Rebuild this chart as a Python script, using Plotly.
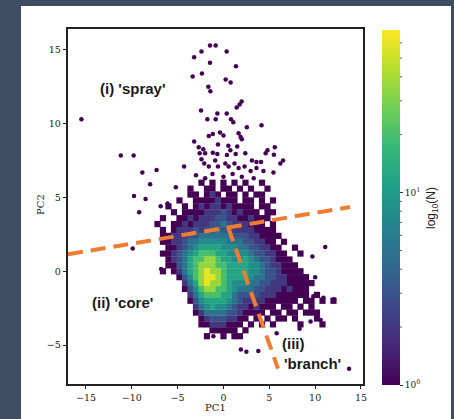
import numpy as np
import plotly.graph_objects as go

# ---------------- data ----------------
# hexbin-like density of the dense region: cell centres and coded counts
GRID_X = [-7.2, -6.6, -6.0, -5.4, -4.8, -4.2, -3.6, -3.0, -2.4, -1.8, -1.2, -0.6,
          0.0, 0.6, 1.2, 1.8, 2.4, 3.0, 3.6, 4.2, 4.8, 5.4, 6.0, 6.6, 7.2, 7.8,
          8.4, 9.0, 9.6, 10.2, 10.8, 11.4, 12.0]
GRID_Y = [6.0, 5.6, 5.2, 4.8, 4.4, 4.0, 3.6, 3.2, 2.8, 2.4, 2.0, 1.6, 1.2, 0.8,
          0.4, 0.0, -0.4, -0.8, -1.2, -1.6, -2.0, -2.4, -2.8, -3.2, -3.6, -4.0, -4.4]
LEVEL_COUNTS = {"1": 1, "2": 2, "3": 3, "4": 5, "5": 8, "6": 12, "7": 20, "8": 35, "9": 60}
DENSITY_ROWS = [
    "........1.1.1.1.1..1.............",
    "......1..11.11.1.1..1............",
    "......11.121.11.1.11.............",
    "....1..11112111.11.1.1...........",
    "..1..1.12122121111.11............",
    "...1.11112223212111.11...........",
    ".1..11212223322112111............",
    "1..11212223343222111.1...........",
    ".1.1222323343322221111...........",
    ".1122233444444333221111..........",
    ".112234455555444332211.1.........",
    "..112345666655544332211..1.......",
    ".11234567776655554332211..1......",
    "..12346778876655654332111........",
    "..113467888776666554322111.......",
    ".1.124678988766665543321111......",
    "....135789987666654433221111.....",
    ".....246898876555443322211111....",
    ".....13578877654443322212111.....",
    "......2467776643333222111111.1...",
    "......13566665432222111111.11.1.1",
    ".......245655432212111.11.1.1....",
    ".......1244443321111.11.11.111...",
    "........123332211.1.1.11.1...1...",
    "........11222111.1.1.1....1...1..",
    "..........11111.1................",
    ".........1..1.11.................",
]
# isolated single-count cells (spray, outliers)
SPARSE_X = [-15.5, -1.47, -0.85, -2.4, 0.35, -3.2, -1.47, 1.36, -3.36, -2.35, 0.24, 0.78,
            -1.65, -1.43, 1.98, 1.76, 1.44, -2.45, -0.67, -1.76, -0.85, 0.35, 0.82, 1.07,
            2.55, 4.15, -1.6, -1.16, -0.38, 0.0, 1.65, 1.87, 2.0, -3.2, -2.7, -2.2, -0.6,
            0.53, 0.75, 1.5, -2.6, -2.0, -1.16, -0.67, 0.38, 1.33, 2.38, 4.6, 4.8, 5.6, 5.5,
            -11.2, -9.8, 3.1, 3.6, 4.1, 6.5, 6.2, -2.4, -2.1, -1.6, -4.3, -0.9, -0.6, 0.2,
            0.56, 1.2, 1.65, 2.3, 2.96, 3.6, 4.36, 5.45, -8.85, -7.3, -8.0, -5.2, -9.76,
            -8.5, -9.2, -6.85, -6.1, -9.9, -6.8, 11.1, 9.7, 10.0, 12.05, 10.9, 9.8, 9.7,
            10.2, 10.6, 9.5, 8.3, 5.8, -1.1, 1.9, 2.5, 3.8, 13.7,
            -3.0, -1.2, 0.0, 1.0, 2.0, 3.3, -2.0]
SPARSE_Y = [10.3, 15.3, 15.3, 14.9, 14.9, 14.5, 14.14, 13.9, 13.2, 13.4, 13.0, 12.8,
            12.5, 12.2, 11.5, 11.3, 11.1, 10.9, 10.7, 10.3, 10.3, 10.7, 10.3, 10.1,
            9.76, 9.9, 9.17, 9.3, 9.4, 9.2, 9.35, 9.1, 8.95, 8.8, 8.4, 8.27, 8.6,
            8.5, 8.2, 8.45, 8.0, 8.0, 8.04, 7.95, 7.88, 7.95, 8.0, 8.0, 8.2, 8.4, 7.9,
            7.84, 7.84, 7.5, 7.4, 7.4, 7.5, 7.3, 7.6, 7.3, 7.1, 7.1, 7.5, 7.1, 7.3,
            7.1, 7.3, 7.0, 7.1, 6.8, 7.0, 6.8, 6.7, 6.7, 6.86, 5.9, 5.7, 5.1,
            4.9, 4.0, 4.4, 4.6, 1.55, 0.15, 1.65, 1.0, -0.4, -1.9, -1.8, -1.7, -2.8,
            -2.9, -3.3, -3.4, -3.9, -4.2, -4.4, -5.3, -5.45, -5.4, -6.6,
            6.5, 6.6, 6.4, 6.6, 6.4, 6.3, 6.3]
# dashed region boundaries
BOUNDARY_A_X = [-16.96, 13.8]
BOUNDARY_A_Y = [1.15, 4.35]
BOUNDARY_B_X = [0.5, 5.95]
BOUNDARY_B_Y = [3.0, -6.6]
X_TICKS = [-15, -10, -5, 0, 5, 10, 15]
Y_TICKS = [-5, 0, 5, 10, 15]
CBAR_MAX = 70
CBAR_MINOR = [2, 3, 4, 5, 6, 7, 8, 9, 20, 30, 40, 50, 60]

# ---------------- build cells ----------------
cells = []
for r, row in enumerate(DENSITY_ROWS):
    for c, ch in enumerate(row[:len(GRID_X)]):
        if ch in LEVEL_COUNTS:
            cells.append((GRID_X[c], GRID_Y[r], LEVEL_COUNTS[ch]))
cells.sort(key=lambda t: t[2])
gx = [t[0] for t in cells]
gy = [t[1] for t in cells]
gz = [np.log10(t[2]) for t in cells]

cmax = np.log10(CBAR_MAX)

# plot-area geometry in pixels (for paper-coordinate placement)
W, H = 454, 419
L, R, T, B = 68, 91, 29, 35
PW, PH = W - L - R, H - T - B
def px_x(X):
    return (X - L) / PW
def px_y(Y):
    return (H - B - Y) / PH

cb_left, cb_right, cb_top, cb_bot = 382, 400, 30, 385

fig = go.Figure()
fig.add_trace(go.Scatter(
    x=SPARSE_X, y=SPARSE_Y, mode="markers", hoverinfo="skip",
    marker=dict(size=4.5, color=[0] * len(SPARSE_X), colorscale="Viridis",
                cmin=0, cmax=cmax, line=dict(width=0)),
    showlegend=False))
fig.add_trace(go.Scatter(
    x=gx, y=gy, mode="markers", hoverinfo="skip",
    marker=dict(size=6.2, symbol="square", color=gz, colorscale="Viridis", cmin=0, cmax=cmax,
                line=dict(width=0),
                colorbar=dict(x=px_x(cb_left), xanchor="left", xpad=0, ypad=0,
                              y=(px_y(cb_top) + px_y(cb_bot)) / 2, yanchor="middle",
                              len=px_y(cb_top) - px_y(cb_bot), lenmode="fraction",
                              thickness=cb_right - cb_left, outlinewidth=0,
                              tickvals=[0, 1], ticktext=["10<sup>0</sup>", "10<sup>1</sup>"],
                              ticks="outside", ticklen=3.5, tickcolor="#333",
                              tickfont=dict(family="DejaVu Serif", size=9, color="#222"))),
    showlegend=False))

dash_style = dict(color="#ee7d33", width=4, dash="15px,8px")
fig.add_trace(go.Scatter(x=BOUNDARY_A_X, y=BOUNDARY_A_Y, mode="lines", line=dash_style,
                         hoverinfo="skip", showlegend=False))
fig.add_trace(go.Scatter(x=BOUNDARY_B_X, y=BOUNDARY_B_Y, mode="lines", line=dash_style,
                         hoverinfo="skip", showlegend=False))

# white slide panel + minor ticks of the log colour bar
shapes = [dict(type="rect", xref="paper", yref="paper", x0=px_x(21), x1=px_x(451),
               y0=px_y(H + 5), y1=px_y(6), fillcolor="white", line=dict(width=0), layer="below")]
for v in CBAR_MINOR:
    fy = px_y(cb_bot) + np.log10(v) / cmax * (px_y(cb_top) - px_y(cb_bot))
    shapes.append(dict(type="line", xref="paper", yref="paper", x0=px_x(cb_right),
                       x1=px_x(cb_right + 2), y0=fy, y1=fy, line=dict(color="#333", width=0.8)))

lab_font = dict(family="Liberation Sans", size=15, color="#1a1a1a")
annots = [
    dict(x=-9.9, y=12.4, text="<b>(i) 'spray'</b>", xref="x", yref="y", showarrow=False, font=lab_font),
    dict(x=-11.0, y=-2.1, text="<b>(ii) 'core'</b>", xref="x", yref="y", showarrow=False, font=lab_font),
    dict(x=7.6, y=-4.9, text="<b>(iii)</b>", xref="x", yref="y", showarrow=False, font=lab_font),
    dict(x=9.7, y=-6.25, text="<b>'branch'</b>", xref="x", yref="y", showarrow=False, font=lab_font),
    dict(x=px_x(215), y=px_y(408), text="PC1", xref="paper", yref="paper", showarrow=False,
         xanchor="center", yanchor="middle",
         font=dict(family="DejaVu Serif", size=10, color="#222")),
    dict(x=px_x(40), y=px_y(205), text="PC2", xref="paper", yref="paper", showarrow=False,
         xanchor="center", yanchor="middle", textangle=-90,
         font=dict(family="DejaVu Serif", size=10, color="#222")),
    dict(x=px_x(432), y=px_y(208), text="log<sub>10</sub>(N)", xref="paper", yref="paper",
         showarrow=False, xanchor="center", yanchor="middle", textangle=-90,
         font=dict(family="Liberation Sans", size=12, color="#222")),
]

axis_common = dict(showgrid=False, zeroline=False, showline=True, linecolor="#222", linewidth=1.5,
                   mirror=True, ticks="outside", ticklen=3.5, tickcolor="#222",
                   tickfont=dict(family="DejaVu Serif", size=9.5, color="#222"))
fig.update_layout(
    width=W, height=H,
    margin=dict(l=L, r=R, t=T, b=B),
    paper_bgcolor="#3e4d63", plot_bgcolor="white",
    xaxis=dict(range=[-16.96, 15.22], tickvals=X_TICKS,
               ticktext=[str(v).replace("-", "\u2212") for v in X_TICKS], **axis_common),
    yaxis=dict(range=[-7.64, 16.42], tickvals=Y_TICKS,
               ticktext=[str(v).replace("-", "\u2212") for v in Y_TICKS], **axis_common),
    annotations=annots,
    shapes=shapes,
)
fig.write_html("out.html")
